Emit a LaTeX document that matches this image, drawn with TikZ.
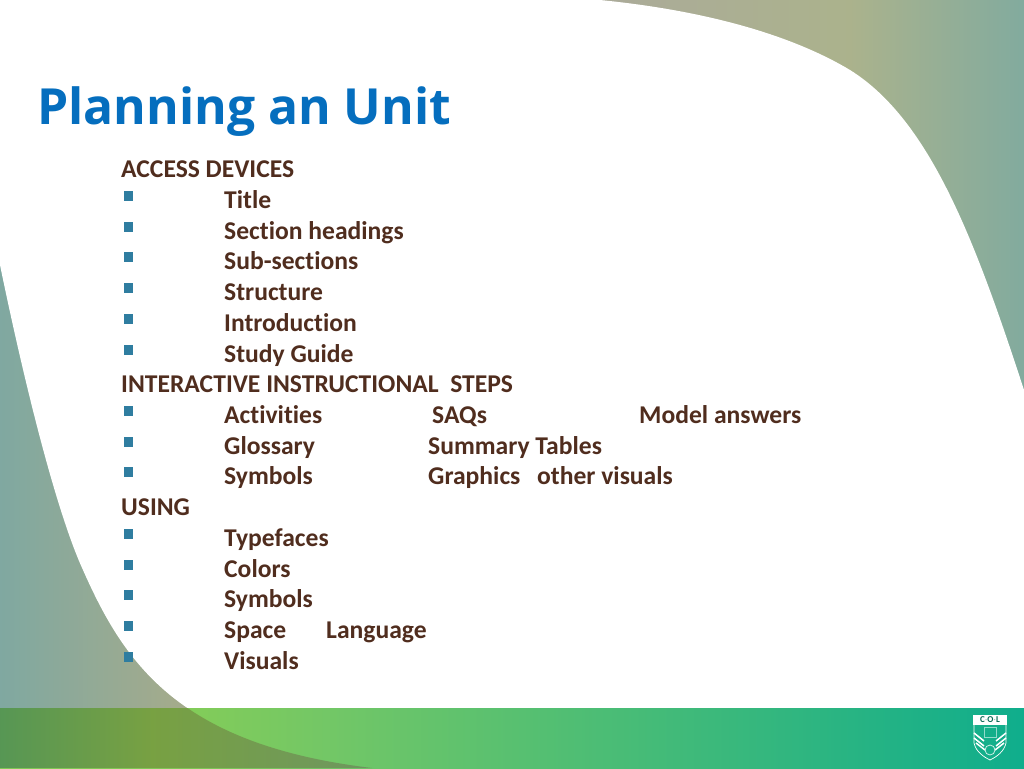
\documentclass[tikz,border=0pt]{standalone}
\usepackage{fontspec}
\setmainfont[Ligatures=NoCommon]{Carlito}
\newfontfamily\titlefont{Open Sans}
\usetikzlibrary{positioning}
\definecolor{inkbrown}{RGB}{80,45,30}
\definecolor{titleblue}{RGB}{5,110,190}
\definecolor{bulletblue}{RGB}{47,125,160}
\definecolor{bandteal}{RGB}{15,175,140}
\pgfdeclarehorizontalshading{swoosh}{100bp}{
  rgb(0bp)=(0.50,0.66,0.63);
  rgb(25bp)=(0.50,0.66,0.63);
  rgb(33.5bp)=(0.64,0.67,0.55);
  rgb(55bp)=(0.67,0.67,0.60);
  rgb(66.5bp)=(0.67,0.70,0.55);
  rgb(75bp)=(0.51,0.67,0.62);
  rgb(100bp)=(0.51,0.67,0.62)}
\pgfdeclarehorizontalshading{bandlight}{100bp}{
  rgb(0bp)=(0.53,0.81,0.34);
  rgb(25bp)=(0.53,0.81,0.34);
  rgb(34.5bp)=(0.51,0.80,0.35);
  rgb(41bp)=(0.45,0.78,0.40);
  rgb(75bp)=(0.06,0.68,0.55);
  rgb(100bp)=(0.06,0.68,0.55)}
\pgfdeclarehorizontalshading{banddark}{100bp}{
  rgb(0bp)=(0.34,0.59,0.33);
  rgb(25bp)=(0.34,0.59,0.33);
  rgb(44bp)=(0.47,0.63,0.26);
  rgb(65bp)=(0.44,0.60,0.35);
  rgb(75bp)=(0.42,0.58,0.38);
  rgb(100bp)=(0.42,0.58,0.38)}
\tikzset{
  line/.style={anchor=base west, inner sep=0pt, text=inkbrown, font=\bfseries\fontsize{25.6}{25.6}\selectfont},
  bullet/.style={fill=bulletblue, minimum size=9.5pt, inner sep=0pt},
  heading/.style={anchor=base west, inner sep=0pt, text=titleblue, font=\titlefont\bfseries\fontsize{49.8}{49.8}\selectfont},
  stripe/.style={white, line width=1.5pt}
}
\begin{document}
\begin{tikzpicture}[x=1pt, y=-1pt]
    \useasboundingbox (0, 0) rectangle (1024, 768);
    \shade[shading=swoosh] (0, 0) rectangle (1024, 768);
    \fill[white] (600, 0) .. controls (720, 12) and (800, 40) .. (850, 70)
      .. controls (930, 120) and (975, 240) .. (1024, 390)
      -- (1024, 768) -- (372, 768)
      .. controls (180, 745) and (125, 665) .. (83, 570)
      .. controls (60, 520) and (30, 410) .. (0, 265)
      -- (0, 0) -- cycle;

    % bottom band
    \shade[shading=bandlight] (0, 708) rectangle (1024, 768);
    \begin{scope}
      \clip (0, 768) -- (372, 768)
        .. controls (180, 745) and (125, 665) .. (83, 570)
        -- (0, 570) -- cycle;
      \shade[shading=banddark] (0, 708) rectangle (400, 768);
    \end{scope}

    \node[heading] (title) at (37, 124) {Planning an Unit};

    \node[line] (access) at (121, 177) {ACCESS DEVICES};
    \node[line] (title2) at (224, 208) {Title};
    \node[line] (headings) at (224, 239) {Section headings};
    \node[line] (subs) at (224, 269) {Sub-sections};
    \node[line] (structure) at (224, 300) {Structure};
    \node[line] (intro) at (224, 331) {Introduction};
    \node[line] (guide) at (224, 362) {Study Guide};

    \node[line] (steps) at (121, 392) {INTERACTIVE INSTRUCTIONAL\ \ STEPS};
    \node[line] (activities) at (224, 423) {Activities};
    \node[line] (saqs) at (432, 423) {SAQs};
    \node[line] (answers) at (639, 423) {Model answers};
    \node[line] (glossary) at (224, 454) {Glossary};
    \node[line] (tables) at (428, 454) {Summary Tables};
    \node[line] (symbols) at (224, 484) {Symbols};
    \node[line] (graphics) at (428, 484) {Graphics};
    \node[line] (visuals) at (537, 484) {other visuals};

    \node[line] (using) at (121, 515) {USING};
    \node[line] (typefaces) at (224, 546) {Typefaces};
    \node[line] (colors) at (224, 577) {Colors};
    \node[line] (symbols2) at (224, 607) {Symbols};
    \node[line] (space) at (224, 638) {Space};
    \node[line] (language) at (326, 638) {Language};
    \node[line] (visuals2) at (224, 669) {Visuals};

    \foreach \y in {196, 227, 257, 288, 319, 350, 411, 442, 472, 534, 565, 595, 626, 657} {
      \node[bullet] at (128.5, \y) {};
    }

    % crest
    \draw[white, line width=.7pt] (974, 725) -- (974, 743)
      .. controls (976, 752) and (984, 757) .. (990, 760)
      .. controls (996, 757) and (1004, 752) .. (1006, 743) -- (1006, 725);
    \draw[stripe] (974, 733) -- (984, 741) (974, 738) -- (984, 746) (976, 743) -- (985, 750);
    \draw[stripe] (1006, 733) -- (996, 741) (1006, 738) -- (996, 746) (1004, 743) -- (995, 750);
    \draw[white!55!bandteal, line width=.6pt] (984, 727) rectangle (996, 737);
    \draw[white!80!bandteal, line width=.8pt] (990, 750) circle (5pt);
    \node[fill=white, text=bandteal!60!black, inner sep=0pt, minimum width=34pt, minimum height=10pt,
      font=\bfseries\fontsize{9}{9}\selectfont] (crest) at (990, 720) {C$\cdot$O$\cdot$L};
  \end{tikzpicture}
\end{document}
